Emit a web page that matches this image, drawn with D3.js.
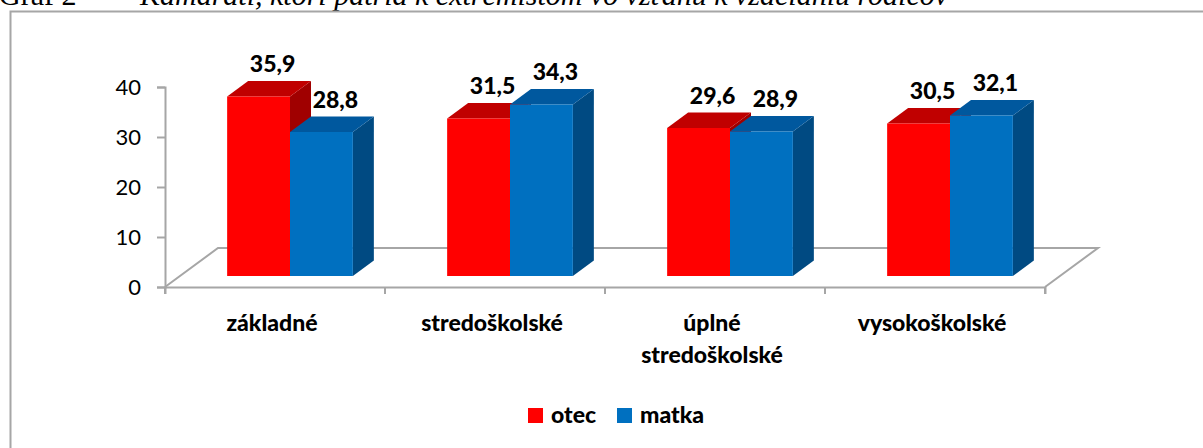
<!DOCTYPE html>
<html>
<head>
<meta charset="utf-8">
<script src="https://cdn.jsdelivr.net/npm/d3@7"></script>
<style>
html,body{margin:0;padding:0;background:#fff;}
svg{display:block;}
</style>
</head>
<body>
<svg id="chart" width="1203" height="448"></svg>
<script>
const categories = ["základné", "stredoškolské", "úplné stredoškolské", "vysokoškolské"];
const categoryLines = [["základné"], ["stredoškolské"], ["úplné", "stredoškolské"], ["vysokoškolské"]];
const seriesNames = ["otec", "matka"];
const otec = [35.9, 31.5, 29.6, 30.5];
const matka = [28.8, 34.3, 28.9, 32.1];
const yTicks = [0, 10, 20, 30, 40];
const titlePrefix = "Graf 2 –";
const titleText = "Kamaráti, ktorí patria k extrémistom vo vzťahu k vzdelaniu rodičov";

const colors = {
  otec: {front: "#FF0000", top: "#C00000", side: "#A00000"},
  matka: {front: "#0070C0", top: "#00589E", side: "#004A82"}
};

const svg = d3.select("#chart");
const font = "Lato, 'Open Sans', sans-serif";
const axisColor = "#A6A6A6";

// Title (cut off at top, as in the reference)
const title = svg.append("text").attr("y", 5).attr("font-family", "'Liberation Serif', 'Times New Roman', serif")
  .attr("font-size", 30).attr("fill", "#000");
title.append("tspan").attr("x", -1).text(titlePrefix);
title.append("tspan").attr("x", 140).attr("font-style", "italic").text(titleText);

// Chart border
svg.append("rect").attr("x", 10.5).attr("y", 11.5).attr("width", 1300).attr("height", 500)
  .attr("fill", "none").attr("stroke", axisColor).attr("stroke-width", 2);

// Scales
const x = d3.scaleBand().domain(categories).range([165, 1045]).paddingInner(0).paddingOuter(0);
const y = d3.scaleLinear().domain([0, 40]).range([287, 87]);
const x1 = d3.scaleBand().domain(seriesNames).range([0, x.bandwidth()]).paddingInner(0).paddingOuter(0.75);

// Floor depth (3D)
const floorDx = 53, floorDy = -39;
const barOffX = 15, barOffY = -11;   // bar front plane vs axis front plane
const depthX = 21, depthY = -15.5;   // bar depth

const g = svg.append("g");

// Floor outline
const x0 = x.range()[0], xN = x.range()[1], yb = y(0);
g.append("path")
  .attr("d", `M${x0},${yb} L${x0 + floorDx},${yb + floorDy} L${xN + floorDx},${yb + floorDy} L${xN},${yb}`)
  .attr("fill", "none").attr("stroke", axisColor).attr("stroke-width", 2);

// Y axis
const yAxis = d3.axisLeft(y).tickValues(yTicks).tickSize(8).tickPadding(16).tickFormat(d3.format("d"));
const ya = g.append("g").attr("transform", `translate(${x0},0)`).call(yAxis);
ya.select(".domain").attr("stroke", axisColor).attr("stroke-width", 2);
ya.selectAll(".tick line").attr("stroke", axisColor).attr("stroke-width", 2);
ya.selectAll(".tick text").attr("font-family", font).attr("font-size", 22).attr("fill", "#000");

// X axis (front line with ticks)
const xAxis = d3.axisBottom(x).tickSize(7).tickFormat("");
const xa = g.append("g").attr("transform", `translate(0,${yb})`).call(xAxis);
xa.select(".domain").attr("stroke", axisColor).attr("stroke-width", 2);
xa.selectAll(".tick").remove();
const boundaries = categories.map(c => x(c)).concat([xN]);
xa.selectAll("line.bt").data(boundaries).enter().append("line").attr("class", "bt")
  .attr("x1", d => d).attr("x2", d => d).attr("y1", 0).attr("y2", 7)
  .attr("stroke", axisColor).attr("stroke-width", 2);

// Bars
const data = [];
categories.forEach((c, i) => {
  data.push({cat: c, s: "otec", v: otec[i]});
  data.push({cat: c, s: "matka", v: matka[i]});
});

const bars = g.append("g");
data.forEach(d => {
  const xl = x(d.cat) + x1(d.s) + barOffX;
  const xr = xl + x1.bandwidth();
  const yt = y(d.v) + barOffY;
  const yB = y(0) + barOffY;
  const c = colors[d.s];
  const bg = bars.append("g");
  bg.append("path").attr("d", `M${xr},${yt} L${xr + depthX},${yt + depthY} L${xr + depthX},${yB + depthY} L${xr},${yB} Z`)
    .attr("fill", c.side);
  bg.append("path").attr("d", `M${xl},${yt} L${xl + depthX},${yt + depthY} L${xr + depthX},${yt + depthY} L${xr},${yt} Z`)
    .attr("fill", c.top);
  bg.append("rect").attr("x", xl).attr("y", yt).attr("width", x1.bandwidth()).attr("height", yB - yt)
    .attr("fill", c.front);
});

// Value labels
const fmt = v => d3.format(".1f")(v).replace(".", ",");
g.append("g").selectAll("text").data(data).enter().append("text")
  .attr("x", d => x(d.cat) + x1(d.s) + barOffX + x1.bandwidth() / 2 + 14)
  .attr("y", d => y(d.v) + barOffY + depthY - 9)
  .attr("text-anchor", "middle").attr("font-family", font).attr("font-weight", 900)
  .attr("font-size", 23).attr("fill", "#000").text(d => fmt(d.v));

// Category labels
const cl = g.append("g");
categories.forEach((c, i) => {
  const t = cl.append("text").attr("text-anchor", "middle").attr("font-family", font)
    .attr("font-weight", 900).attr("font-size", 23).attr("fill", "#000");
  categoryLines[i].forEach((line, j) => {
    t.append("tspan").attr("x", x(c) + x.bandwidth() / 2 - 3).attr("y", 331 + j * 32).text(line);
  });
});

// Legend
const legend = svg.append("g");
const legendX = [528, 617];
seriesNames.forEach((s, i) => {
  legend.append("rect").attr("x", legendX[i]).attr("y", 408).attr("width", 15).attr("height", 15)
    .attr("fill", colors[s].front);
  legend.append("text").attr("x", legendX[i] + 23).attr("y", 423).attr("font-family", font)
    .attr("font-weight", 900).attr("font-size", 23).attr("fill", "#000").text(s);
});
</script>
</body>
</html>
